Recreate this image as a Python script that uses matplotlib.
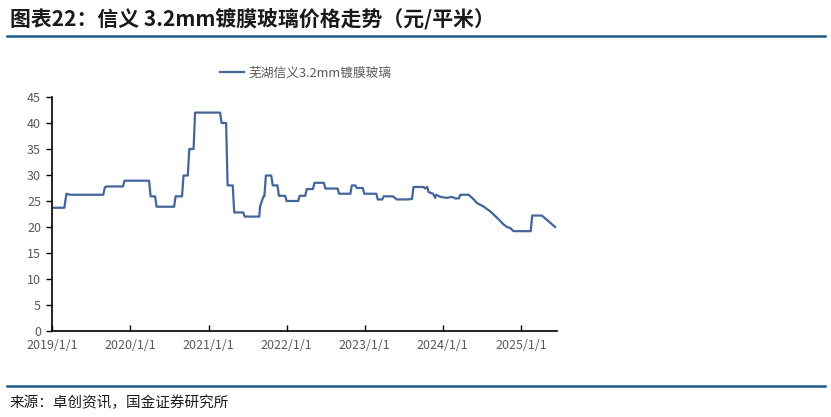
import matplotlib.pyplot as plt
import matplotlib.dates as mdates
import pandas as pd

plt.rcParams["font.family"] = ["Noto Sans CJK SC", "DejaVu Sans"]

# weekly change points (元/平米)
dates = [
    "2019-01-01", "2019-02-27", "2019-03-04", "2019-03-09", "2019-03-25",
    "2019-08-28", "2019-09-04", "2019-09-11", "2019-11-28", "2019-12-05",
    "2020-03-29", "2020-04-05", "2020-04-26", "2020-05-03", "2020-07-24",
    "2020-07-31", "2020-08-30", "2020-09-06", "2020-09-26", "2020-10-03",
    "2020-10-23", "2020-10-30", "2021-02-24", "2021-03-03", "2021-03-24",
    "2021-03-31", "2021-04-24", "2021-05-01", "2021-06-12", "2021-06-19",
    "2021-08-26", "2021-08-30", "2021-09-15", "2021-09-19", "2021-09-26",
    "2021-10-21", "2021-10-28", "2021-11-19", "2021-11-26", "2021-12-25",
    "2022-01-01", "2022-02-24", "2022-03-03", "2022-03-29", "2022-04-05",
    "2022-05-04", "2022-05-11", "2022-06-24", "2022-07-01", "2022-08-27",
    "2022-09-03", "2022-10-26", "2022-11-02", "2022-11-18", "2022-11-25",
    "2022-12-23", "2022-12-30", "2023-02-24", "2023-03-03", "2023-03-24",
    "2023-03-31", "2023-05-13", "2023-05-31", "2023-07-22", "2023-08-10",
    "2023-08-17", "2023-10-03", "2023-10-10", "2023-10-20", "2023-10-27",
    "2023-11-17", "2023-11-26", "2023-12-01", "2023-12-20", "2024-01-20",
    "2024-02-13", "2024-02-28", "2024-03-16", "2024-03-23", "2024-05-01",
    "2024-05-25", "2024-06-09", "2024-07-07", "2024-08-10", "2024-09-10",
    "2024-10-11", "2024-10-27", "2024-11-11", "2024-11-27", "2025-02-15",
    "2025-02-22", "2025-04-08", "2025-05-01", "2025-06-09",
]
prices = [
    23.7, 23.7, 25.2, 26.4, 26.2,
    26.2, 27.6, 27.8, 27.8, 28.9,
    28.9, 25.9, 25.9, 23.9, 23.9,
    25.9, 25.9, 29.9, 29.9, 35.0,
    35.0, 42.0, 42.0, 40.0, 40.0,
    28.0, 28.0, 22.8, 22.8, 22.0,
    22.0, 24.0, 25.9, 25.9, 29.9,
    29.9, 28.0, 28.0, 26.0, 26.0,
    25.0, 25.0, 26.0, 26.0, 27.3,
    27.3, 28.5, 28.5, 27.4, 27.4,
    26.4, 26.4, 28.0, 28.0, 27.5,
    27.5, 26.4, 26.4, 25.3, 25.3,
    25.9, 25.9, 25.3, 25.3, 25.4,
    27.7, 27.7, 27.4, 27.7, 26.7,
    26.4, 25.6, 26.2, 25.8, 25.6,
    25.8, 25.5, 25.5, 26.2, 26.2,
    25.3, 24.6, 24.0, 23.0, 21.8,
    20.5, 20.0, 19.8, 19.2, 19.2,
    22.2, 22.2, 21.4, 20.0,
]
series_label = "芜湖信义3.2mm镀膜玻璃"
title = "图表22：信义 3.2mm镀膜玻璃价格走势（元/平米）"
source = "来源：卓创资讯，国金证券研究所"
y_ticks = list(range(0, 50, 5))
x_years = list(range(2019, 2026))

df = pd.DataFrame({"date": pd.to_datetime(dates), "price": prices})

fig = plt.figure(figsize=(8.31, 4.17), dpi=100)
ax = fig.add_axes([0.0628, 0.2062, 0.6075, 0.5612])

line, = ax.plot(df["date"], df["price"], color="#44659B", linewidth=1.6,
                label=series_label)

ax.set_ylim(0, 45)
ax.set_yticks(y_ticks)
ax.set_xlim(pd.Timestamp("2019-01-01"), pd.Timestamp("2025-06-18"))
ax.set_xticks([pd.Timestamp(f"{y}-01-01") for y in x_years])
ax.xaxis.set_major_formatter(mdates.DateFormatter("%Y/%-m/%-d"))

for side in ["top", "right"]:
    ax.spines[side].set_visible(False)
for side in ["left", "bottom"]:
    ax.spines[side].set_color("black")
    ax.spines[side].set_linewidth(1.2)
ax.tick_params(axis="y", direction="out", length=4, width=1.0,
               labelsize=9, labelcolor="#595959", pad=4)
ax.tick_params(axis="x", direction="in", length=4, width=1.0,
               labelsize=9, labelcolor="#595959", pad=6)

fig.legend(handles=[line], loc="center left", bbox_to_anchor=(0.251, 0.825),
           frameon=False, fontsize=9.2, labelcolor="#595959",
           handlelength=1.9, handletextpad=0.3)

# header / footer
fig.text(0.012, 0.955, title, fontsize=15, fontweight="bold",
         color="#1a1a1a", va="center", ha="left")
fig.add_artist(plt.Line2D([0.008, 0.993], [0.913, 0.913],
                          color="#1F5C8A", linewidth=1.8))
fig.add_artist(plt.Line2D([0.008, 0.993], [0.074, 0.074],
                          color="#1F5C8A", linewidth=1.8))
fig.text(0.012, 0.033, source, fontsize=10.5, color="#1a1a1a",
         va="center", ha="left")

fig.savefig("out.png", dpi=100)
